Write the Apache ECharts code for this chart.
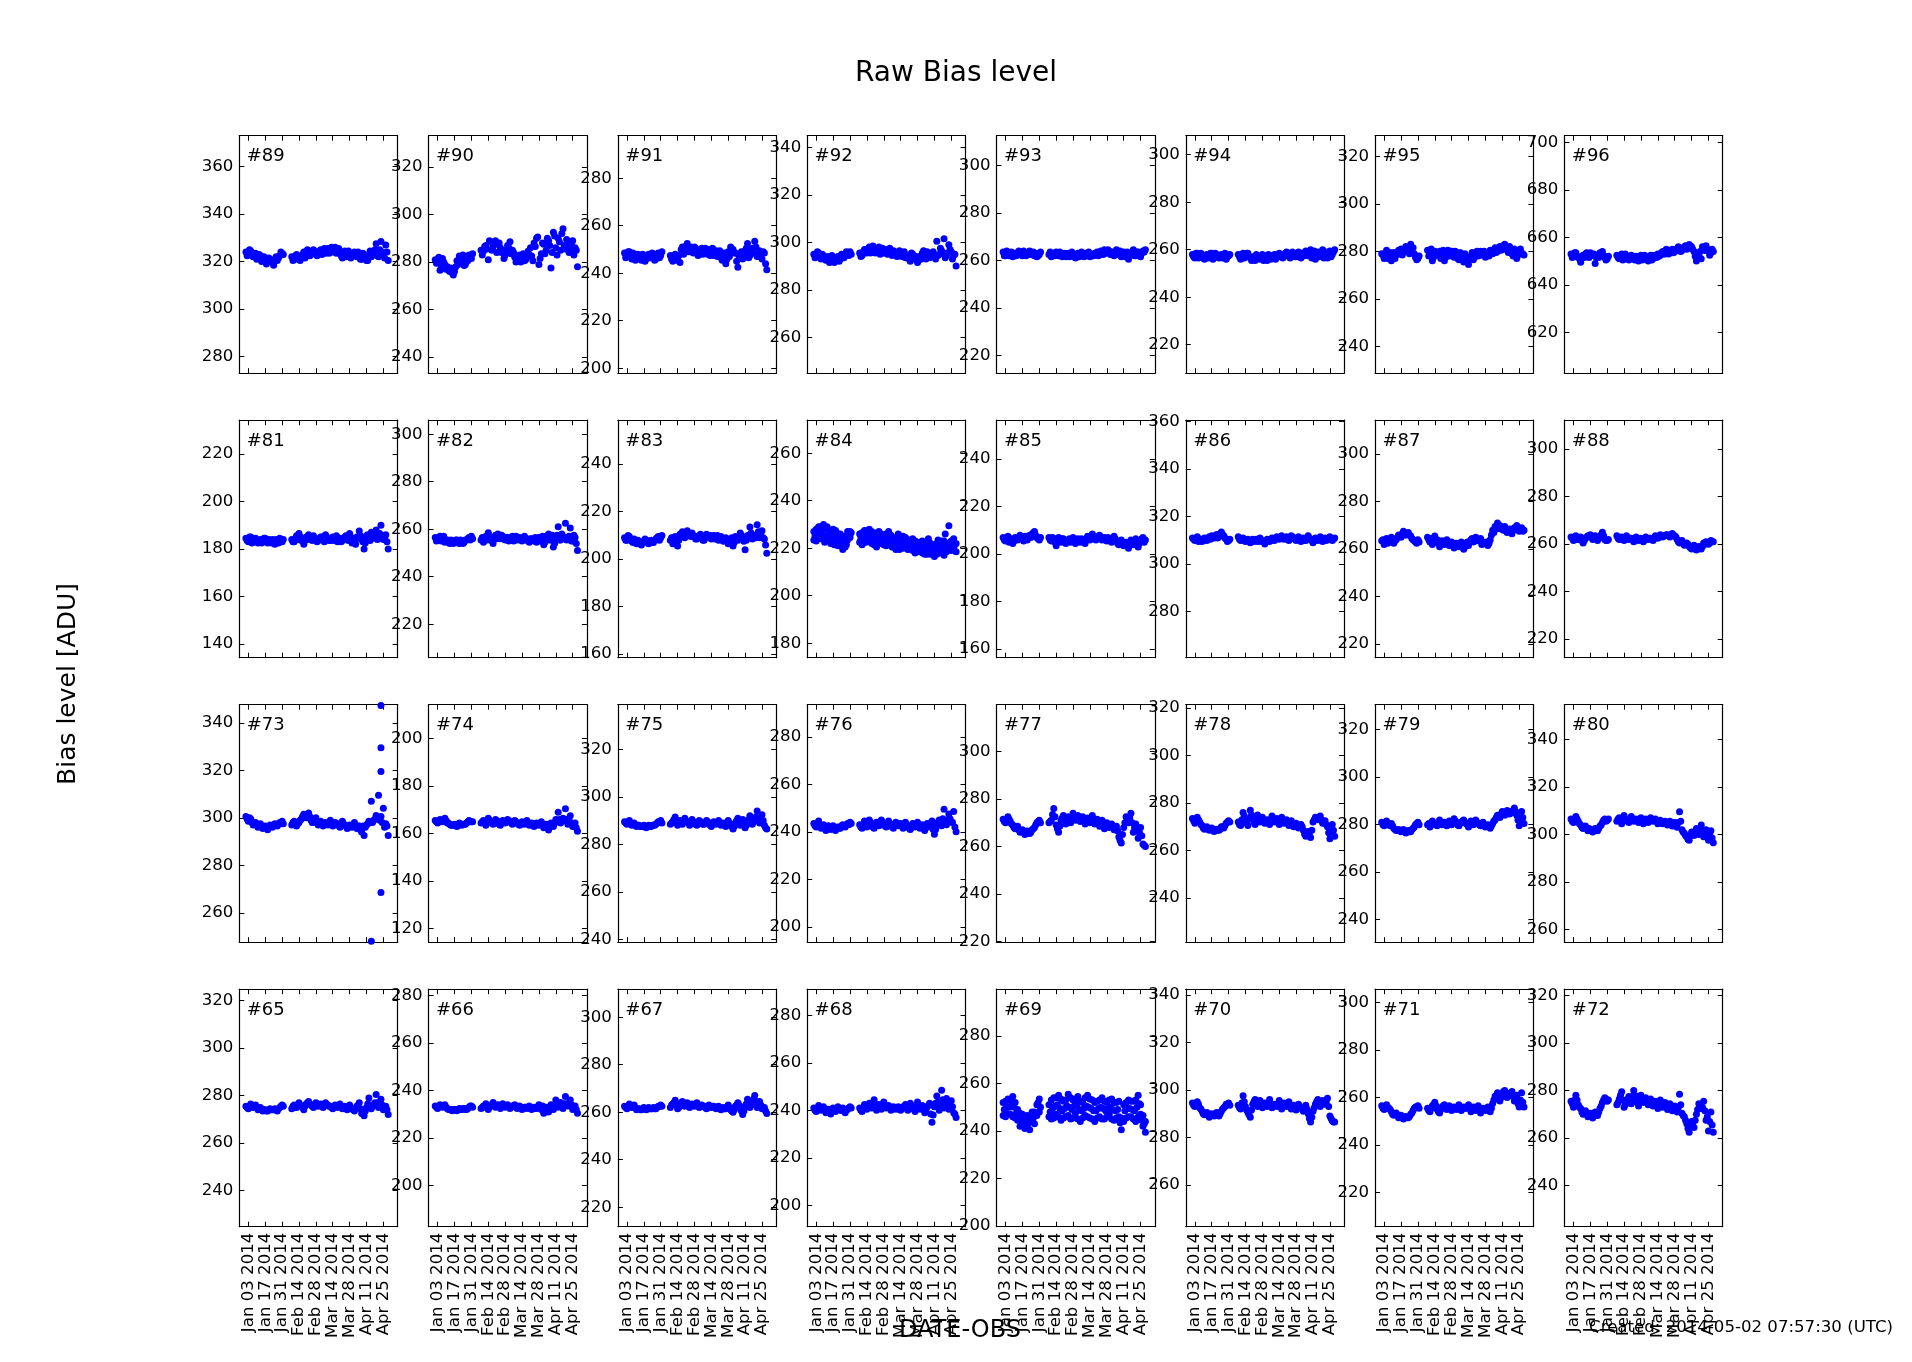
<!DOCTYPE html>
<html>
<head>
<meta charset="utf-8">
<title>Raw Bias level</title>
<script src="https://cdn.jsdelivr.net/npm/echarts@6/dist/echarts.min.js"></script>
<style>
html,body{margin:0;padding:0;background:#fff;}
#chart{width:1912px;height:1362px;}
</style>
</head>
<body>
<div id="chart"></div>
<script>
// ---------------- data ----------------
// observation dates, set A and set B (the days in between)
const datesA = [
'2014-01-01','2014-01-03','2014-01-05','2014-01-07','2014-01-09','2014-01-11','2014-01-13','2014-01-15','2014-01-17','2014-01-19','2014-01-21','2014-01-23','2014-01-25','2014-01-27','2014-01-29','2014-01-31',
'2014-02-08','2014-02-10','2014-02-12','2014-02-14','2014-02-16','2014-02-18','2014-02-20','2014-02-22','2014-02-24','2014-02-26','2014-02-28',
'2014-03-02','2014-03-04','2014-03-06','2014-03-08','2014-03-10','2014-03-12','2014-03-14','2014-03-16','2014-03-18','2014-03-20','2014-03-22','2014-03-24','2014-03-26','2014-03-28','2014-03-30',
'2014-04-01','2014-04-03','2014-04-05','2014-04-07','2014-04-09','2014-04-11','2014-04-13','2014-04-15','2014-04-17','2014-04-19','2014-04-21','2014-04-23','2014-04-25','2014-04-27','2014-04-29'];
const datesB = [
'2014-01-02','2014-01-04','2014-01-06','2014-01-08','2014-01-10','2014-01-12','2014-01-14','2014-01-16','2014-01-18','2014-01-20','2014-01-22','2014-01-24','2014-01-26','2014-01-28','2014-01-30','2014-02-01',
'2014-02-09','2014-02-11','2014-02-13','2014-02-15','2014-02-17','2014-02-19','2014-02-21','2014-02-23','2014-02-25','2014-02-27',
'2014-03-01','2014-03-03','2014-03-05','2014-03-07','2014-03-09','2014-03-11','2014-03-13','2014-03-15','2014-03-17','2014-03-19','2014-03-21','2014-03-23','2014-03-25','2014-03-27','2014-03-29','2014-03-31',
'2014-04-02','2014-04-04','2014-04-06','2014-04-08','2014-04-10','2014-04-12','2014-04-14','2014-04-16','2014-04-18','2014-04-20','2014-04-22','2014-04-24','2014-04-26','2014-04-28'];

const tickLabels = ['Jan 03 2014','Jan 17 2014','Jan 31 2014','Feb 14 2014','Feb 28 2014','Mar 14 2014','Mar 28 2014','Apr 11 2014','Apr 25 2014'];

// row 1
const ch89 = [324,323.5,324.5,322,323.5,321.5,322.5,320.5,321.5,320,321,319.5,321,320.5,322.5,323.5,
322,321,323,322,321.5,324,322.5,324.5,323,325,324,323.5,325,324.5,323.5,325.5,325,324,326,325,323.5,321.5,324.5,323,322.5,323,324,322,323,321,322.5,320.5,323,322,324,327.5,322,328.5,323,327,320.5];
const ch89b = [322.5,325,322.5,323,321,323,320,322,319,321.5,320.5,318.5,322,321.5,324,323,
320.5,322.5,321,320.5,323,321.5,325,322.5,324,323.5,322.5,324.5,323,325.5,324,323.5,326,324.5,323.5,325.5,322.5,323.5,322,324.5,321.5,323,322.5,324,321,323.5,321.5,320.5,324.5,323.5,325,322.5,325,324,321.5,324];
const ch90 = [281,280,276.5,281.5,279,278,276,275.5,276,280.5,282.5,280,278.5,282,283,281.5,
285,284.5,287,281,288.5,286.5,289,287.5,286,285,283,287,288.5,285,282,281,283,281.5,280.5,282,283,282.5,288,290,279,283.5,287.5,285,289,277.5,292.5,286,290,285,294,285.5,287.5,285,289,286,278];
const ch90b = [279.5,282,278,280,277,276.5,277.5,274.5,278,279,281,283,279,280.5,282.5,283.5,
283,286.5,285.5,289,285,287.5,284,288,284,281.5,285,286,283.5,284,280,282,280,283.5,281,284.5,286,280.5,286.5,290.5,281.5,288,283.5,290,287,284,291,283,288.5,292,287,289.5,284,287,283,285];
const ch91 = [248.5,247.5,249,246,248,246.5,247.5,245.5,247,246,248,246.5,247.5,246,248.5,247.5,
247.5,245,248,246,244.5,251,249.5,252.5,250,249,251,249.5,248,250.5,249,248.5,250,249,247.5,249.5,248,246.5,247,244,249,251,250,248.5,242.5,248,246,249.5,252.5,247.5,250.5,253.5,247,249.5,246,248.5,241.5];
const ch91b = [246.5,249,247,248.5,245.5,248,246,248,245,247.5,246.5,248.5,245.5,247.5,246.5,249,
246,247,245.5,247.5,250,248,251.5,249,251,248.5,250.5,247.5,249.5,248,250.5,248,247.5,250.5,248,247,249.5,245.5,248.5,246,247,249.5,248.5,245,247,249,247.5,250.5,246.5,249,248.5,251,248,247,249,244];
const ch92 = [295,294,295.5,293,294.5,292.5,294,292,293.5,292.5,294,293,294.5,295,295.5,296,
295.5,294.5,297,295.5,298,296.5,297.5,296,298,296.5,295.5,297,296,295,296.5,295.5,294.5,296,295,293.5,294.5,292,295,293,291.5,294,295.5,294,296,293.5,295,294,300.5,295,296.5,301.5,294.5,299,296,294.5,290];
const ch92b = [293.5,296,294,295,293,293.5,291.5,294.5,291.5,293.5,292,295,293.5,296,294.5,295,
294,296,297,296.5,295.5,298.5,295.5,297,295,297.5,296.5,295,297.5,294.5,296,294,296.5,294,296,294,293,295.5,293.5,294,292.5,293,296.5,293,295,294.5,296,293,294.5,297.5,295.5,293.5,295.5,297,293,295];
const ch93 = [263.5,262,263,262.5,261.5,263,262.5,263.5,262,263,262.5,264,263,262,261.5,262.5,
262.5,261.5,263,263.5,262,263,262,261.5,263,262.5,262,261,263,262.5,262,263,262.5,261.5,262.5,263,263.5,262.5,263.5,264.5,263,264,263,262,264.5,263,261.5,263.5,262,260.5,263,264.5,262,263.5,261.5,264,264.5];
const ch93b = [262,264,262,263.5,262.5,262,264,262.5,264,262,263.5,262.5,263.5,263,262,263.5,
263.5,262.5,262,262.5,263.5,261.5,263,262.5,261.5,263.5,261.5,262.5,261.5,263.5,261.5,262,263.5,262,262,262.5,262,264,262.5,263.5,264.5,262.5,263.5,263,262.5,264,262.5,261.5,263.5,262.5,263.5,262,263.5,262.5,263,263.5];
const ch94 = [258,256.5,258.5,257,257.5,256,258,257.5,258.5,257,258,256.5,258,257.5,256,257.5,
258,256,258.5,257.5,258.5,256.5,257,255.5,257.5,256,258,256.5,255.5,257.5,256.5,258,257,258.5,257.5,258,259,258.5,257.5,258.5,257,259,256.5,258,259.5,257.5,260,258.5,256,259,257.5,260,258,256.5,259.5,258,260];
const ch94b = [257,258.5,256.5,258.5,256.5,257.5,256.5,258.5,256,258.5,257,257.5,256.5,258.5,257,258,
257,257.5,256.5,258.5,257,255.5,256.5,258,256.5,257,255.5,257.5,258,256,257.5,256,258,257,256.5,258.5,257.5,256.5,259,257,258.5,257.5,258.5,257.5,258.5,258,256.5,259.5,258,257,259,256.5,259,257.5,257,259];
const ch95 = [279,277,280.5,278,276,279.5,278.5,280.5,281,279.5,282,280.5,283,281.5,277.5,277,
280.5,279,276,280,278.5,280,279,276,279.5,278,280,277.5,279,276.5,278.5,275.5,277.5,274.5,278,276.5,279,278,280,278.5,277.5,279,280.5,279,281.5,280,282,281,283,280.5,282,279,281,277,280.5,279,278.5];
const ch95b = [278.5,279,277,279.5,278,277,279.5,279,278.5,280.5,281,279,281.5,279,276.5,278,
278,281,277.5,279,279.5,277,280.5,277.5,280.5,279,278.5,280,277,279.5,277,279,276,277,279.5,277.5,280,279.5,278.5,280,279,278,279.5,280.5,279.5,281.5,280.5,282.5,281.5,279.5,280.5,278,279.5,278.5,281,279];
const ch96 = [653,652,653.5,651.5,649.5,652.5,653,652,653.5,652.5,649,652,653.5,654,651.5,651,
652.5,651,653,651.5,652,650.5,652.5,651,652,650,652.5,651,651.5,650,652.5,651,652,653,652.5,654,653,654.5,653.5,655,654,654.5,655.5,654.5,656,655,657,656,654,650,652.5,651,655,656.5,654,653.5,654];
const ch96b = [651.5,653.5,652,651,652,651.5,653.5,651.5,652.5,653,651.5,651.5,652.5,652.5,650.5,652,
651.5,652.5,650.5,653,651,652,651.5,650.5,651.5,651,650.5,652.5,651,651.5,650.5,652.5,651.5,652,653.5,653,655,653,654.5,653.5,655,656,654,655.5,656.5,655.5,656.5,655,652,651,654,656,654.5,655,652.5,655];
// row 2
const ch81 = [184.5,183,185,183.5,184.5,182.5,184,183,184.5,182.5,183.5,184,182,183.5,184.5,183,
184,183,185.5,186.5,183.5,182,185,186,184,185.5,184,183.5,185,184,186,184.5,183.5,185,184,183,184.5,183.5,185,184,186.5,182.5,183.5,185,187.5,184,180,185.5,184,187,184.5,188,185,190,184,186,180];
const ch81b = [183.5,185,182.5,184,183.5,183.5,182.5,184.5,183,184,182.5,183.5,184,182.5,183.5,184,
183,184.5,184,185,184.5,183.5,184,185,183.5,184.5,183,184.5,185,183,185,183.5,184.5,183.5,185.5,184.5,183,184.5,185.5,183.5,185,184,182,184.5,185.5,183,182.5,186,183.5,185.5,186,184,186.5,184.5,185,183];
const ch82 = [256.5,255.5,257,256,254.5,255.5,254,255,254.5,255.5,254,255,254.5,255.5,256.5,257,
255.5,254.5,257,258.5,256,254,257.5,258,256,257,255.5,256.5,255.5,257,256,255.5,256.5,255,257,256,254.5,256,255,254.5,256.5,255,253.5,257,258,255.5,252.5,256,261,255.5,257,262.5,256,260.5,255,256.5,251];
const ch82b = [255,256.5,255,257,255.5,254.5,255.5,254,255.5,254.5,255.5,254,255.5,256,255.5,256,
256.5,256,255.5,257,255,256.5,256,256.5,257.5,256,256.5,255,256.5,255,257,256.5,255.5,256,256,255,256,255.5,256.5,256,255,257,254.5,256,255.5,257.5,254,257.5,255.5,258,256.5,255.5,257,255,257.5,254];
const ch83 = [209,208,209.5,207.5,208.5,206.5,207.5,206,207.5,208,206.5,208,207,208.5,209.5,209,
208,206.5,209.5,205.5,210.5,211.5,209,212,210,211,209.5,208.5,210,209,208,210.5,209.5,208.5,210,209,208,209.5,207.5,209,206.5,208,205.5,209.5,208,211,209,204,210,213.5,208.5,210,214.5,209,212,208.5,202.5];
const ch83b = [208,210,208.5,207,207.5,208,206.5,207,208.5,207,207.5,207,208,209,208,210,
209,207.5,208.5,208,209.5,210,210.5,211,209.5,210,208.5,209.5,210.5,208,209,209.5,210,209.5,208.5,210,209,208.5,208.5,207.5,207.5,209,207,208.5,209.5,210,207.5,208,209,211,210,209,211.5,210,209,206];
const ch84 = [227,223,229,224,230,225,227.5,222,228,224,221,226,219.5,225,227,224.5,
226,221.5,227.5,223,228,222,226,220.5,227,223.5,225.5,221,227,222.5,224,219.5,226,222,225,221,223.5,220,224,218,222.5,219,223,217.5,222,219,221.5,216.5,222,218,223,217,221.5,229.5,219,224,218.5];
const ch84b = [225,226.5,226,227.5,222.5,229,224.5,226,221.5,226.5,224,222,223.5,221.5,225.5,226.5,
224,224.5,222.5,225.5,225,224.5,223.5,224,222,225,223.5,224,225,220.5,222.5,224.5,219.5,223.5,223,222.5,221.5,222.5,220.5,221,220,221,219.5,220.5,224,217.5,220,219.5,223.5,220,220.5,226,220.5,222.5,221,221.5];
// third set (on datesA) for the panel with the widest spread
const ch84c = [223.5,228,224.5,229,225,228.5,223.5,227,224,227.5,225,222,224.5,220.5,223.5,227,
222.5,226.5,222.5,227.5,223,227,221.5,226.5,222,226,221.5,226,222,225.5,220.5,224.5,221,225,220,224.5,219.5,223.5,219,223,218.5,222.5,218,222,217.5,222.5,218,221.5,217.5,222.5,218.5,223,218.5,222,223,219.5,222];
const ch85 = [207,205.5,207.5,206,204.5,207,206,208,206.5,207.5,206,208,208.5,209.5,207,206,
207,205.5,206.5,203.5,207,205,206.5,204.5,206,205,207,204.5,206.5,205,206,204.5,207.5,206,208.5,207,206.5,208,206,207,205.5,206.5,205,207.5,205.5,204,206,203.5,205,202.5,206,204,206.5,203,205.5,207,206];
const ch85b = [206,207,205,206.5,205.5,206.5,207,207,205.5,206.5,207,207,209,208,206.5,207,
206,207,205,205.5,206,206.5,205.5,205.5,206.5,206,205.5,205.5,206,206.5,205,206,206.5,207.5,207.5,206,207.5,207,206.5,206,207,205.5,206.5,206.5,204.5,205,205,204.5,203.5,204.5,205,205,204.5,204.5,206.5,205];
const ch86 = [311,310,311.5,310.5,309.5,311,310,311.5,312,311,312.5,311.5,313.5,312,310.5,310,
311.5,310,311,309.5,310.5,309,310.5,310,309.5,311,310,308.5,310.5,309.5,311,310,311.5,310.5,312,310.5,311.5,310,312,311,310,311.5,309.5,311,310,312,310.5,309,311,310,311.5,309.5,311,310.5,311.5,310,311];
const ch86b = [310.5,311,309.5,310.5,310,310.5,311,310.5,311.5,312,311,312.5,312.5,311,309.5,310.5,
310.5,310.5,310,310,309.5,310,309.5,310.5,310,309.5,309.5,309.5,310,310,310.5,311,311,311,311,311,310.5,311,311.5,310.5,310.5,310.5,310.5,310,311,311,310,310,310.5,310.5,310.5,310.5,310,311,310.5,310.5];
const ch87 = [263.5,262,264.5,263,265,262.5,264,266,265,267.5,266,267,265.5,264,263,264,
265,263,262,265.5,264,261,263.5,262,264,261.5,263,260.5,262.5,261,263,260,262,261.5,264,263,265,264,264.5,263,262.5,261.5,264,268,269.5,271,270,268.5,269.5,267,268.5,266.5,269,270,267.5,269,268];
const ch87b = [264,263.5,262.5,264,263.5,263.5,265,265.5,266.5,266,266.5,266,264.5,263.5,262.5,263,
264,264.5,263.5,263,262.5,262.5,263,263,262.5,262.5,261.5,261.5,262,262,261.5,261,263,263,264.5,264,263.5,263.5,262,262.5,263,262.5,266,267,268.5,269.5,268.5,268,268.5,268,267.5,268,268.5,268.5,268,267.5];
const ch88 = [263,261.5,263.5,262,263,260.5,262.5,263.5,264,262,263.5,261.5,263,265,262,261.5,
263.5,262,263,261.5,263.5,262,262.5,261,263,261.5,262.5,261,263,262,262.5,261.5,263.5,262.5,264,263,263.5,264,263,264.5,263.5,262,260.5,261.5,259.5,260.5,259,258,259.5,257.5,259,258,260.5,261,260,261.5,261];
const ch88b = [262.5,263,262,262.5,261.5,261.5,263,263,263,263,262.5,262.5,264,263.5,261.5,262,
262.5,262.5,262,262.5,262.5,262.5,262,262,262,262,262,262,262.5,262.5,262,262.5,263,263,263.5,263.5,264,263.5,264,263.5,263,261,261,260.5,260,260,258.5,258.5,258.5,258,258.5,259,260,260.5,260.5,261];
// row 3
const ch73 = [300.5,298.5,299.5,297,298,296,297.5,295.5,296.5,295,297,296,297.5,296.5,298,298.5,
297,298.5,296.5,298,299.5,301.5,300,302,299,298,300,297,298.5,296.5,298,297,299,296.5,298,297.5,296,298.5,297,295.5,297,296,298,295.5,296.5,294,292.5,297,298.5,307,299,301,309.5,300.5,304,297.5,292.5];
const ch73b = [299.5,300,298,297.5,297,296.5,296.5,296,296,296,296.5,297,297,297.5,297.5,297.5,
298,297.5,297.5,299,300.5,300.5,301,300.5,298,299,298.5,298,297.5,297.5,297.5,298,297.5,297.5,297,297,297.5,297.5,296.5,296,296.5,297,296.5,296.5,295,296.5,296,297.5,298,298,299.5,300,299,298,296,296.5];
const ch74 = [165.5,164.5,166,165,166.5,164.5,164,163.5,164,163,164.5,163.5,164,164.5,165.5,165,
164.5,165.5,163.5,166.5,165,164,166,165,163.5,165.5,164.5,166,165,164,165.5,164.5,163.5,165,164,165.5,163.5,164.5,163,164.5,163.5,165,162.5,164,161.5,164.5,163,166,169,164.5,166.5,170.5,164,167.5,163,164.5,161];
const ch74b = [165,165.5,165.5,165.5,165.5,164.5,163.5,163.5,163.5,163.5,164,164,164,165,165,165,
165,164.5,165,165.5,164.5,165,165.5,164,164.5,165,165,165.5,164.5,164.5,165,164,164,164.5,164.5,164.5,164,163.5,163.5,164,164,163.5,163,163,163,163.5,164.5,165,166,165.5,165.5,166,165.5,164.5,164,162.5];
const ch75 = [289.5,288.5,290,288,289,287.5,288,287.5,288,287,288,287.5,288,288.5,289.5,290,
288.5,289.5,291.5,288,290,288.5,291,289.5,288,290.5,289,288,290,289,288.5,290,289,287.5,289.5,288.5,290,288,289,287.5,290,288.5,286.5,289,291,288,290.5,287,289.5,292,288.5,290,294,289,292.5,288,286.5];
const ch75b = [289,289.5,289,288.5,288,288,287.5,287.5,287.5,287.5,287.5,288,288,289,289.5,289,
289,290.5,289.5,289,289,290,290,289,289,289.5,288.5,289,289.5,288.5,289,289.5,288,288.5,289,289,289,288.5,288,288.5,289,287.5,287.5,290,289.5,289,289,288,290.5,290,289.5,291.5,290.5,290.5,290,287];
const ch76 = [243.5,242,244.5,241.5,243,240.5,242.5,241,242.5,240.5,242,241.5,243,242,243.5,244,
243,241.5,244.5,242,245,243,241.5,244,242.5,245,243.5,242,244.5,243,241.5,244,242.5,243.5,241.5,244,242.5,241,243.5,242,244,241.5,243,240.5,243.5,242,244.5,239,243,245,242.5,249.5,243,247.5,244,248.5,240];
const ch76b = [242.5,243.5,242.5,242,241.5,241.5,241.5,242,241.5,241.5,241.5,242.5,242.5,243,243,243.5,
242,243,243,243.5,244,242,242.5,243.5,243.5,244,242.5,243,243.5,242,242.5,243.5,243,242.5,242.5,243,241.5,242,242.5,243,242.5,242,241.5,242,242.5,243,241,241,244,243.5,245.5,244.5,245,245.5,244,242];
const ch77 = [271.5,270,272.5,270.5,269,267.5,268.5,266,267,265,266.5,265.5,267,268,270,271,
270,271,276,269,266,271,273,269.5,272.5,270,274,271,273,270.5,272.5,269.5,272,270,273,269.5,271.5,268.5,271,267.5,270,268,269.5,267,268.5,264,261.5,268,272.5,270,274,266,269.5,263.5,268,261,260];
const ch77b = [270.5,271.5,271.5,269.5,268,268,267,266.5,266,265.5,266,266,267.5,269,270.5,270,
270.5,273.5,272.5,267.5,268.5,272,271,271,271,272,272.5,272,271.5,271.5,271,271,271,271.5,271,270.5,270,270,269,269,269,268.5,268,268,266.5,262.5,265,270,271,272,270,268,266.5,266,264.5,260.5];
const ch78 = [273.5,271.5,274,272,270.5,269,270,268.5,269.5,268,269,268.5,270,269.5,271.5,272.5,
272,270.5,276,272.5,270.5,277,273.5,271,275,272,274,271.5,273,271,274.5,272,273.5,271,274,271.5,273,270.5,272.5,270,271.5,269.5,271,268.5,266,268,265.5,272,274,273,274.5,271.5,272.5,270,265,271,266];
const ch78b = [272.5,273,273,271,269.5,269.5,269,269,268.5,268.5,268.5,269,270,270.5,272,272,
271,273,274.5,271.5,273.5,275,272,273,273.5,273,272.5,272,272,272.5,273,273,272.5,272.5,272.5,272,271.5,271.5,271.5,271,270.5,270,270,267,267,266.5,268.5,273,273.5,273.5,273,272,271,267.5,268,268.5];
const ch79 = [281,279.5,281.5,280,280.5,278.5,277.5,278,277,278,276.5,277.5,277,278.5,280,281,
280,279,281.5,280.5,279.5,282,280,281,279.5,281.5,280,282.5,281,279.5,281,282,280.5,279,281.5,280,282,280.5,279.5,281,279,280,278.5,280.5,282,284,283,285.5,284,286,284.5,285,287,284,279.5,285.5,280.5];
const ch79b = [280,280.5,280.5,279.5,279.5,278,277.5,277.5,277.5,277.5,277,277,278,279,280.5,280,
280.5,280,280.5,280,281,281,280.5,280,280.5,280.5,281,281.5,280,280.5,281.5,281,280,280.5,280.5,281,281,280,280,280,279.5,279.5,279.5,281.5,283,283.5,284.5,284.5,285,285,285.5,286,285.5,282,282,283];
const ch80 = [306.5,305,307.5,305.5,304,302.5,303.5,301.5,302,301,302.5,301.5,303.5,305,306.5,306,
305.5,307,304.5,308,306,305,307.5,305.5,306.5,305,307,304.5,306.5,305,307,305.5,306.5,304.5,306,304.5,305.5,304,305.5,303.5,305,303,309.5,302,300.5,299,297.5,301,299.5,302.5,300,304,299,302,297.5,301.5,296.5];
const ch80b = [305.5,306.5,306.5,304.5,303,303,302.5,302.5,301.5,301.5,302,302.5,304,306,305.5,306.5,
306.5,305.5,306,306.5,305.5,306,306.5,306,305.5,306,305.5,305.5,305.5,306,306,306,305.5,305.5,305,305,305,304.5,304.5,304,304,305,305.5,301,299.5,298,299.5,300,301,301,301.5,302,300.5,300,299.5,298.5];
// row 4
const ch65 = [275.5,274.5,276.5,275,276,274,275,273.5,274,273.5,274.5,274,274.5,273.5,275,276,
274.5,276,275,277,275.5,274,276.5,277.5,276,275,277,275.5,276.5,275,277,276,275.5,274.5,276,275,276.5,274.5,275.5,274,276,274.5,273.5,275.5,277,272.5,271.5,275,279,274.5,276,280.5,275,278.5,274,275.5,272];
const ch65b = [275,275.5,275.5,275.5,275,274.5,274,274,273.5,274,274,274,274,274.5,275.5,275.5,
275.5,275,276,276,275,275.5,277,276.5,275.5,276,276.5,276,275.5,276,276,275.5,275,275.5,275.5,275.5,275.5,275,275,275,275,274,274.5,276,274.5,273.5,273.5,276.5,276,275.5,277,277,276.5,276,274.5,274];
const ch66 = [233.5,232.5,234,233,234,232.5,232,231.5,232,231.5,232.5,232,232.5,232,233,233.5,
232.5,233.5,234.5,232,233.5,235,233,234,232.5,234.5,233,234,232.5,233.5,234,232.5,233.5,232,233,232.5,233.5,232,233,232.5,234,232,230.5,233,231,234,232,236,233,235,232.5,237.5,233.5,236,232,233.5,230.5];
const ch66b = [233,233.5,233.5,233.5,233,232,232,232,232,232,232,232.5,232,232.5,233.5,233,
233,233,233.5,233,234,234,233.5,233.5,233.5,233.5,233.5,233.5,233,233.5,233,233,233,232.5,233,233,232.5,232.5,232.5,233,233,233.5,232,232,232.5,232.5,233.5,234,234,233.5,234.5,234.5,234,234,233,232];
const ch67 = [262.5,261.5,263.5,262,263,261,261.5,261,262,261,262,261.5,262,261.5,262.5,263,
262,263.5,265,261.5,263,264.5,262.5,264,262,263.5,262.5,264,262,263,262.5,261.5,263,262,262.5,261.5,262.5,261,262,261.5,263,261,260,262.5,264,261.5,259,262.5,265.5,262,264,267,262,264.5,261.5,262,259.5];
const ch67b = [262,262.5,262.5,262.5,262,261.5,261,261.5,261.5,261.5,261.5,261.5,261.5,262,262.5,262.5,
263,264,263,262,264,263.5,263,263,263,263,263.5,263,262.5,262.5,262,262,262.5,262.5,262,262,262,261.5,261.5,262,262,260.5,261,263,263,260.5,260.5,263.5,263.5,263,265.5,264.5,263,263,262,260.5];
const ch68 = [241,239.5,242,240,241.5,239,240.5,238.5,241,239.5,241.5,240,241,239,240.5,241.5,
241,239.5,242.5,240.5,243,241,244.5,240,242.5,240.5,243.5,241,242,240,241.5,240.5,241.5,240,241.5,242.5,240,243,241.5,239.5,243.5,240.5,242,239,241.5,243,235,241.5,246,240,248.5,241,245,240.5,244,239,237];
const ch68b = [240,241,241,241,240,240,239.5,240,240,240.5,240.5,240,240,240,241,241,
240,241,241.5,242,242,243,242.5,241.5,241.5,242,242,241.5,241,241,241,241,240.5,241,241,241,241.5,242,240.5,241.5,242,241.5,240.5,240.5,242,238.5,238,243,243.5,242,244.5,243,242.5,242,241.5,238.5];
const ch69 = [252,246,253.5,247,254.5,245.5,249,242,247,241,246.5,240.5,248,243,251,253.5,
251,245,254,247,255,244.5,252.5,246,255.5,245,253,247.5,254.5,244,252,246.5,255,245.5,253,244,252.5,246,254,245,252,247,253.5,244.5,252,246,240.5,251,245.5,253,246,252.5,244,255,247,242,239.5];
const ch69b = [249,250,250,251,250,247.5,245.5,244.5,244,243.5,243.5,244.5,245.5,247,252,250,
248,249.5,250.5,251,249.5,248.5,249.5,250.5,250,249,250.5,251,249,248.5,249.5,250.5,250,249.5,248.5,248.5,249.5,250,249.5,248.5,249.5,250,249,248.5,249,243.5,245,248.5,249.5,249.5,249,248.5,250,251.5,244.5,243];
// third set (on datesA) for the other panel with a wide spread
const ch69c = [246.5,252.5,247,253,246,252,244.5,247.5,242.5,246,242,245.5,244,248,246.5,248,
246,253,245.5,254,246,253.5,245.5,253,246.5,254,245.5,253.5,245,252.5,245.5,254,246,253.5,245,252,245.5,253,245,252.5,246,253,245,252,245.5,252.5,245.5,244,252,246,252.5,245,253,246,251,246.5,244];
const ch70 = [294.5,293,295,292.5,291,289.5,290.5,288.5,290,289,290.5,289,291,292.5,294,294.5,
293.5,292,297.5,293,290.5,288.5,294,296,293,295.5,292.5,294.5,293,296,292.5,294,293,295.5,292,294.5,293,295,292,293.5,291.5,294,292.5,291,293.5,290,286.5,291,294,296,293,295.5,294,296.5,289,287,286.5];
const ch70b = [293.5,294,294,292,290,290,289.5,289.5,289.5,290,289.5,290,292,293,294,293.5,
292.5,294.5,295,291.5,289.5,291.5,295,294.5,294,294,293.5,294,294.5,294,293.5,293.5,294,294,293.5,293.5,294,293.5,293,292.5,292.5,293,292,292,292,288,288.5,292.5,295,294.5,294.5,295,295,293,288,286.5];
const ch71 = [256.5,255,257,255.5,254,252.5,253.5,251.5,252.5,251,252,251.5,253,254.5,256,256.5,
255.5,254,256.5,258,255,253.5,256,257,255,256.5,254.5,256,255,257,254.5,256,255.5,257,254,256,254.5,256.5,253.5,255.5,254.5,256,254,257.5,260.5,262,258.5,261.5,263,260,261.5,262.5,258.5,261,256,262,256];
const ch71b = [255.5,256,256,255,253,253,252.5,252,252,251.5,251.5,252,253.5,255.5,256,255.5,
254.5,255.5,257,256.5,254,255,256.5,256,255.5,255.5,255.5,255.5,256,255.5,255.5,255.5,256,255.5,255,255,255.5,255,254.5,255,255,254.5,255.5,259,261,260,260,262.5,261.5,260.5,262,260.5,259.5,257.5,259,258];
const ch72 = [275.5,273,278,274,272.5,270,271.5,269,270.5,268.5,271,269.5,272.5,275,277,275.5,
274,276.5,279.5,273,275,277.5,274.5,280,276,273.5,278,275,277,274,276.5,273.5,275.5,272.5,276,273,275,272,274.5,271.5,273.5,271,278.5,270.5,269,266,262.5,267,264.5,270,274.5,272.5,275.5,267.5,263,271,262.5];
const ch72b = [274.5,276,276,273,271,270.5,270.5,270,269.5,269.5,270,271,273.5,276,276.5,276,
275,278,276,274,276.5,276,277.5,278,275,275.5,276.5,276,275.5,275.5,275,274.5,274.5,274.5,274.5,274,273.5,273.5,273,272.5,272.5,273,274,269.5,267.5,264,265,266,267.5,272,273.5,273,271.5,269,267,265.5];

// isolated extra points of #73
const extraDates73 = ['2014-04-23','2014-04-23','2014-04-23','2014-04-23','2014-04-15'];
const extraValues73 = [347.3, 329.5, 319.5, 268.5, 248.0];

// panel names, row by row, and the lower limit of each panel's y range (range is 100 ADU)
const panelIds = [89,90,91,92,93,94,95,96, 81,82,83,84,85,86,87,88, 73,74,75,76,77,78,79,80, 65,66,67,68,69,70,71,72];
const panelA = [ch89,ch90,ch91,ch92,ch93,ch94,ch95,ch96, ch81,ch82,ch83,ch84,ch85,ch86,ch87,ch88,
  ch73,ch74,ch75,ch76,ch77,ch78,ch79,ch80, ch65,ch66,ch67,ch68,ch69,ch70,ch71,ch72];
const panelB = [ch89b,ch90b,ch91b,ch92b,ch93b,ch94b,ch95b,ch96b, ch81b,ch82b,ch83b,ch84b,ch85b,ch86b,ch87b,ch88b,
  ch73b,ch74b,ch75b,ch76b,ch77b,ch78b,ch79b,ch80b, ch65b,ch66b,ch67b,ch68b,ch69b,ch70b,ch71b,ch72b];
const wideIds = [84, 69];
const wideValues = [ch84c, ch69c];
const yMins = [273,233.2,197.9,244.9,212.5,208,228.7,602.8,
  134.2,205.9,158.5,173.9,156.4,260.6,214.3,212.2,
  247.6,114.3,238.8,193.5,219.7,221.4,230.5,254.6,
  224.8,182.7,211.8,191,199.7,242.4,205.6,222.7];
const yRange = 100;

// ---------------- helpers ----------------
const FONT = 'DejaVu Sans';
const ref = Date.UTC(2014,0,3);
function dayOf(s){ const p = s.split('-').map(Number); return (Date.UTC(p[0],p[1]-1,p[2]) - ref)/86400000; }
const xsA = datesA.map(dayOf), xsB = datesB.map(dayOf);

const GL = 239.3, GSTEPX = 189.3, GW = 158.3;
const GT = 135.7, GSTEPY = 284.5, GH = 237.5;
const XMIN = -7.5, XMAX = 123.8;

const grids = [], xAxes = [], yAxes = [], series = [], graphics = [];

panelIds.forEach((id, i) => {
  const r = Math.floor(i/8), c = i % 8;
  const gx = GL + c*GSTEPX, gy = GT + r*GSTEPY;
  grids.push({left: gx, top: gy, width: GW, height: GH, show: false, containLabel: false});
  const line = {show: true, onZero: false, lineStyle: {color: '#000', width: 1.2}};
  const tick = {show: true, inside: true, length: 5, lineStyle: {color: '#000', width: 1}};
  const xLab = {
    show: r === 3, rotate: 90, margin: 6, color: '#000', fontFamily: FONT, fontSize: 16.6,
    showMinLabel: true, showMaxLabel: true,
    formatter: v => { const k = v/14; return (Math.abs(k - Math.round(k)) < 1e-6 && tickLabels[Math.round(k)]) ? tickLabels[Math.round(k)] : ''; }
  };
  xAxes.push({type: 'value', gridIndex: i, position: 'bottom', min: XMIN, max: XMAX, minInterval: 14, maxInterval: 14,
    axisLine: line, axisTick: tick, axisLabel: xLab, splitLine: {show: false}});
  xAxes.push({type: 'value', gridIndex: i, position: 'top', min: XMIN, max: XMAX, minInterval: 14, maxInterval: 14,
    axisLine: line, axisTick: tick, axisLabel: {show: false}, splitLine: {show: false}});
  const ymin = yMins[i], ymax = yMins[i] + yRange;
  yAxes.push({type: 'value', gridIndex: i, position: 'left', min: ymin, max: ymax, minInterval: 20, maxInterval: 20,
    axisLine: line, axisTick: tick,
    axisLabel: {show: true, margin: 6, color: '#000', fontFamily: FONT, fontSize: 16.6, showMinLabel: true, showMaxLabel: true,
      formatter: v => (Math.abs(v/20 - Math.round(v/20)) < 1e-6) ? String(Math.round(v)) : ''},
    splitLine: {show: false}});
  yAxes.push({type: 'value', gridIndex: i, position: 'right', min: ymin, max: ymax, minInterval: 20, maxInterval: 20,
    axisLine: line, axisTick: tick, axisLabel: {show: false}, splitLine: {show: false}});

  let data = panelA[i].map((v, k) => [xsA[k], v]).concat(panelB[i].map((v, k) => [xsB[k], v]));
  const w = wideIds.indexOf(id);
  if (w >= 0) data = data.concat(wideValues[w].map((v, k) => [xsA[k], v]));
  if (id === 73) extraDates73.forEach((d, k) => data.push([dayOf(d), extraValues73[k]]));
  series.push({type: 'scatter', xAxisIndex: 2*i, yAxisIndex: 2*i, data: data, symbol: 'circle', symbolSize: 7,
    itemStyle: {color: '#0000ff', opacity: 1}, silent: true, clip: true});

  graphics.push({type: 'text', x: gx + 7.4, y: gy + 12,
    style: {text: '#' + id, fontFamily: FONT, fontSize: 18, fill: '#000', align: 'left', verticalAlign: 'top'}});
});

graphics.push({type: 'text', x: 956, y: 74, style: {text: 'Raw Bias level', fontFamily: FONT, fontSize: 28, fill: '#000', align: 'center', verticalAlign: 'middle'}});
graphics.push({type: 'text', x: 68, y: 684, rotation: Math.PI/2, style: {text: 'Bias level [ADU]', fontFamily: FONT, fontSize: 25, fill: '#000', align: 'center', verticalAlign: 'middle'}});
graphics.push({type: 'text', x: 960, y: 1331, style: {text: 'DATE-OBS', fontFamily: FONT, fontSize: 24, fill: '#000', align: 'center', verticalAlign: 'middle'}});
graphics.push({type: 'text', x: 1893, y: 1328, style: {text: 'Created: 2014-05-02 07:57:30 (UTC)', fontFamily: FONT, fontSize: 16.6, fill: '#000', align: 'right', verticalAlign: 'middle'}});

const chart = echarts.init(document.getElementById('chart'), null, {renderer: 'canvas'});
chart.setOption({
  animation: false,
  backgroundColor: '#fff',
  grid: grids, xAxis: xAxes, yAxis: yAxes, series: series, graphic: graphics
});
</script>
</body>
</html>
